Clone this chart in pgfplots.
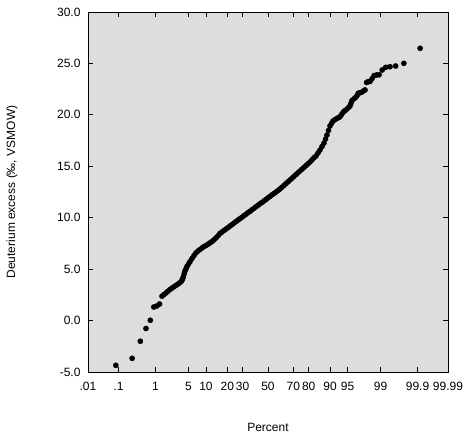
\documentclass[border=0pt]{standalone}
\usepackage{fontspec}
\setmainfont{Liberation Sans}
\usepackage{pgfplots}
\usepackage{pgfplotstable}
\pgfplotsset{compat=1.18}
\definecolor{bg}{RGB}{220,222,222}
\pgfplotstableread{
z y
-3.144 -4.35
-2.807 -3.67
-2.638 -2.01
-2.521 -0.77
-2.432 0.03
-2.359 1.32
-2.296 1.42
-2.241 1.61
-2.190 2.37
-2.149 2.53
-2.107 2.69
-2.066 2.86
-2.025 3.02
-1.983 3.16
-1.942 3.29
-1.901 3.42
-1.860 3.55
-1.818 3.69
-1.783 3.85
-1.767 4.04
-1.750 4.24
-1.731 4.55
-1.715 4.82
-1.694 5.03
-1.674 5.26
-1.643 5.49
-1.612 5.72
-1.570 6.03
-1.529 6.32
-1.488 6.58
-1.446 6.76
-1.405 6.91
-1.364 7.06
-1.322 7.19
-1.281 7.30
-1.240 7.42
-1.198 7.55
-1.157 7.69
-1.116 7.85
-1.074 8.04
-1.033 8.24
-0.992 8.47
-0.950 8.61
-0.909 8.76
-0.868 8.90
-0.826 9.04
-0.785 9.19
-0.744 9.33
-0.702 9.48
-0.661 9.62
-0.620 9.77
-0.579 9.90
-0.537 10.05
-0.496 10.20
-0.455 10.34
-0.413 10.49
-0.372 10.62
-0.331 10.77
-0.289 10.92
-0.248 11.06
-0.207 11.21
-0.165 11.35
-0.124 11.49
-0.083 11.63
-0.041 11.78
0.000 11.93
0.041 12.07
0.083 12.22
0.124 12.35
0.165 12.50
0.207 12.65
0.248 12.79
0.289 12.97
0.331 13.14
0.372 13.32
0.413 13.49
0.455 13.67
0.496 13.84
0.537 14.02
0.579 14.19
0.620 14.37
0.661 14.54
0.702 14.72
0.744 14.89
0.785 15.07
0.826 15.24
0.868 15.42
0.909 15.62
0.950 15.83
0.992 16.00
1.033 16.29
1.074 16.58
1.116 16.92
1.157 17.26
1.188 17.65
1.219 18.04
1.250 18.48
1.281 18.92
1.312 19.16
1.343 19.40
1.384 19.53
1.426 19.66
1.467 19.76
1.488 19.82
1.523 20.05
1.556 20.28
1.591 20.41
1.632 20.57
1.674 20.76
1.694 20.86
1.715 21.13
1.736 21.40
1.777 21.56
1.818 21.73
1.849 21.94
1.866 22.10
1.901 22.15
1.942 22.22
1.983 22.35
2.005 22.42
2.037 23.15
2.071 23.22
2.108 23.25
2.148 23.50
2.193 23.82
2.241 23.87
2.296 23.90
2.359 24.36
2.432 24.62
2.521 24.68
2.638 24.75
2.807 25.01
3.144 26.47
}\datatable
\begin{document}
\begin{tikzpicture}
\useasboundingbox (0,0) rectangle (469pt,439pt);
\begin{axis}[
  at={(88pt,67pt)}, anchor=south west,
  scale only axis, width=360pt, height=360pt,
  xmin=-3.719, xmax=3.719, ymin=-5, ymax=30,
  axis background/.style={fill=bg},
  axis line style={line width=0.9pt},
  tick pos=both, tick align=inside, major tick length=5pt,
  every tick/.style={black, line width=0.8pt},
  xtick={-3.719,-3.090,-2.326,-1.645,-1.2816,-0.8416,-0.5244,0,0.5244,0.8416,1.2816,1.645,2.326,3.090,3.719},
  xticklabels={.01,.1,1,5,10,20,30,50,70,80,90,95,99,99.9,99.99},
  ytick={-5,0,5,10,15,20,25,30},
  yticklabel style={/pgf/number format/fixed,/pgf/number format/precision=1,/pgf/number format/fixed zerofill, xshift=-4pt},
  /pgf/number format/assume math mode=true,
  ticklabel style={font=\fontsize{12}{14}\selectfont},
  xticklabel style={yshift=-7pt},
  xlabel={Percent},
  ylabel={Deuterium excess (‰, VSMOW)},
  label style={font=\fontsize{12}{14}\selectfont},
  xlabel style={at={(axis description cs:0.5,-0.1528)}, anchor=center},
  ylabel style={at={(axis description cs:-0.211,0.5)}, anchor=center},
  clip=false,
]
\addplot[only marks, mark=*, mark size=2.6pt, mark options={fill=black, draw=black}] table[x=z, y=y] {\datatable};
\end{axis}
\end{tikzpicture}
\end{document}
